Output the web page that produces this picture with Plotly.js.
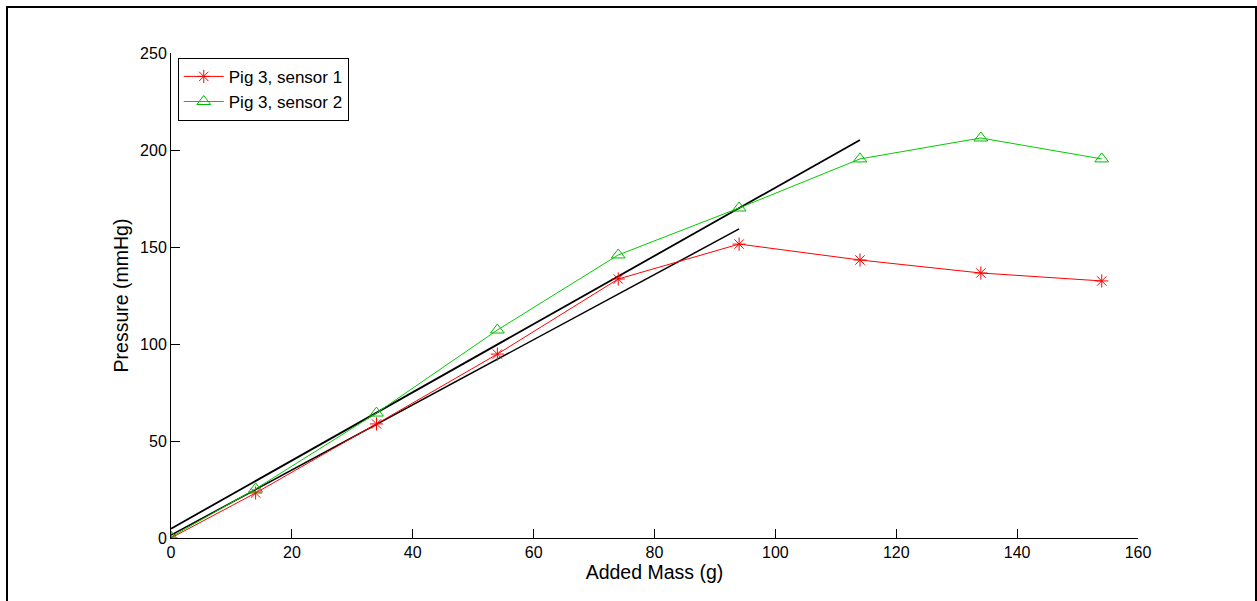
<!DOCTYPE html>
<html>
<head>
<meta charset="utf-8">
<script src="https://cdn.plot.ly/plotly-3.0.1.min.js"></script>
<style>
  body { margin: 0; background: #fff; }
  #frame { position: absolute; left: 6px; top: 6px; width: 1247px; height: 700px;
           border: 2px solid #000; pointer-events: none; z-index: 5; }
  #chart { position: absolute; left: 0; top: 0; width: 1257px; height: 601px; }
</style>
</head>
<body>
<div id="chart"></div>
<div id="frame"></div>
<script>
const mass = [0, 14, 34, 54, 74, 94, 114, 134, 154];
const sensor1 = [0, 23.2, 58.8, 94.8, 133.5, 151.5, 143.3, 136.6, 132.5];
const sensor2 = [0.5, 25.3, 64.4, 107.2, 145.9, 170.1, 195.4, 206.2, 195.4];
const fit1X = [0, 94];
const fit1Y = [1.5, 159.3];
const fit2X = [0, 114];
const fit2Y = [4.8, 205.2];
const xTicks = [0, 20, 40, 60, 80, 100, 120, 140, 160];
const yTicks = [0, 50, 100, 150, 200, 250];

const traces = [
  { x: fit2X, y: fit2Y, mode: 'lines', line: { color: '#000', width: 1.8 }, showlegend: false, hoverinfo: 'skip' },
  { x: fit1X, y: fit1Y, mode: 'lines', line: { color: '#000', width: 1.5 }, showlegend: false, hoverinfo: 'skip' },
  { x: mass, y: sensor1, name: 'Pig 3, sensor 1', mode: 'lines+markers',
    line: { color: '#ff0000', width: 1 },
    marker: { symbol: 'asterisk-open', size: 11, color: '#ff0000', line: { color: '#ff0000', width: 1 } } },
  { x: mass, y: sensor2, name: 'Pig 3, sensor 2', mode: 'lines+markers',
    line: { color: '#00cc00', width: 1 },
    marker: { symbol: 'triangle-up-open', size: 12, color: '#00bb00', line: { color: '#00bb00', width: 1 } } }
];

const fontFam = 'Arial, "Liberation Sans", Helvetica, sans-serif';
const layout = {
  width: 1257, height: 601,
  margin: { l: 171, r: 119, t: 53, b: 63 },
  paper_bgcolor: '#fff', plot_bgcolor: '#fff',
  font: { family: fontFam, size: 16, color: '#000' },
  showlegend: true,
  legend: { x: 0.007, y: 0.99, xanchor: 'left', yanchor: 'top', bgcolor: '#fff',
            bordercolor: '#000', borderwidth: 1, font: { size: 17, family: fontFam },
            tracegroupgap: 0, itemwidth: 40 },
  xaxis: {
    range: [0, 160], tickvals: xTicks, ticktext: xTicks.map(String),
    showgrid: false, zeroline: false, showline: true, linecolor: '#000', linewidth: 1,
    ticks: 'inside', ticklen: 9, tickcolor: '#000', mirror: false,
    title: { text: 'Added Mass (g)', font: { size: 19.5, family: fontFam }, standoff: 3 },
    tickfont: { size: 16 }
  },
  yaxis: {
    range: [0, 250], tickvals: yTicks, ticktext: yTicks.map(String),
    showgrid: false, zeroline: false, showline: true, linecolor: '#000', linewidth: 1,
    ticks: 'inside', ticklen: 9, tickcolor: '#000', mirror: false,
    title: { text: 'Pressure (mmHg)', font: { size: 19.5, family: fontFam }, standoff: 6 },
    tickfont: { size: 16 }
  }
};

Plotly.newPlot('chart', traces, layout, { displayModeBar: false, staticPlot: true });
</script>
</body>
</html>
